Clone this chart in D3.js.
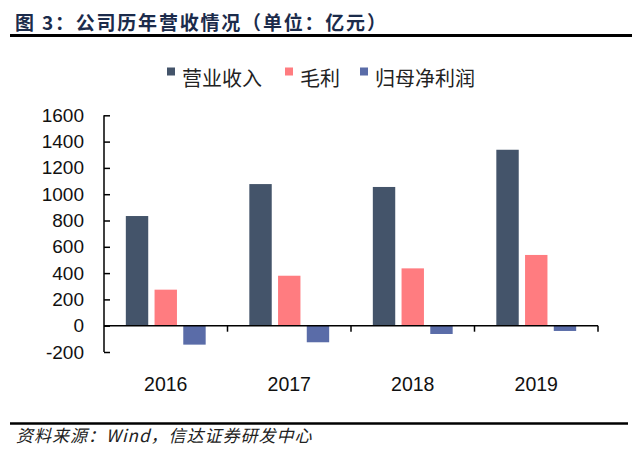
<!DOCTYPE html>
<html><head><meta charset="utf-8">
<script src="https://cdn.jsdelivr.net/npm/d3@7"></script>
<style>body{margin:0;background:#fff}svg{display:block}</style>
</head><body>
<svg id="c" width="640" height="469"></svg>
<script>
const years = ["2016","2017","2018","2019"];
const seriesNames = ["营业收入","毛利","归母净利润"];
const revenue = [834, 1077, 1055, 1338];
const grossProfit = [274, 380, 436, 538];
const netProfit = [-144, -126, -63, -40];
const yTicks = [-200,0,200,400,600,800,1000,1200,1400,1600];
const colors = ["#44546A","#FF7C80","#5A6CA8"];
const series = [revenue, grossProfit, netProfit];

const svg = d3.select("#c");
const x = d3.scaleBand().domain(years).range([104,598]).paddingInner(0).paddingOuter(0);
const xs = d3.scaleBand().domain(seriesNames).range([0,x.bandwidth()]).paddingInner(0.22).paddingOuter(0.76);
const y = d3.scaleLinear().domain([-200,1600]).range([352,115.3]);

// title
svg.append("text").attr("x",15).attr("y",30).attr("font-family","'Noto Sans CJK SC'")
  .attr("font-weight","bold").attr("font-size",19).attr("fill","#1B2B4B")
  .attr("letter-spacing",1.8)
  .text("图 3：公司历年营收情况（单位：亿元）");
svg.append("line").attr("x1",10).attr("x2",632).attr("y1",35.5).attr("y2",35.5)
  .attr("stroke","#000").attr("stroke-width",3);

// legend
const legX = [167, 285, 360];
seriesNames.forEach((n,i)=>{
  svg.append("rect").attr("x",legX[i]).attr("y",67.5).attr("width",8).attr("height",8).attr("fill",colors[i]);
  svg.append("text").attr("x",legX[i]+15).attr("y",85.5).attr("font-family","'Noto Sans CJK SC'")
    .attr("font-size",20).attr("fill","#222").text(n);
});

// bars
years.forEach((yr,i)=>{
  series.forEach((s,j)=>{
    const v = s[i];
    svg.append("rect").attr("x",x(yr)+xs(seriesNames[j])).attr("width",xs.bandwidth())
      .attr("y",y(Math.max(0,v))).attr("height",Math.abs(y(v)-y(0))).attr("fill",colors[j]);
  });
});

// y axis
const yAxis = d3.axisLeft(y).tickValues(yTicks).tickSize(-6).tickPadding(20).tickFormat(d=>String(d));
const gy = svg.append("g").attr("transform","translate(104,0)").call(yAxis);
gy.select(".domain").attr("stroke","#000").attr("stroke-width",1.5).attr("d","M0,"+y(1600)+"V"+y(-200));
gy.selectAll(".tick line").attr("stroke","#000").attr("stroke-width",1.5);
gy.selectAll(".tick text").attr("font-family","'Liberation Sans',Arial").attr("font-size",19).attr("fill","#111");

// zero line / x axis
const xAxis = d3.axisBottom(x).tickSize(0).tickFormat(()=> "");
const gx = svg.append("g").attr("transform","translate(0,"+y(0)+")").call(xAxis);
gx.select(".domain").attr("stroke","#000").attr("stroke-width",1.5).attr("d","M104,0H598");
const tickPos = years.slice(1).map(d=>x(d)).concat([x.range()[1]]);
gx.selectAll(".sep").data(tickPos).enter().append("line").attr("class","sep")
  .attr("x1",d=>d).attr("x2",d=>d).attr("y1",0).attr("y2",6).attr("stroke","#000").attr("stroke-width",1.5);

// year labels
svg.selectAll(".yr").data(years).enter().append("text").attr("class","yr")
  .attr("x",d=>x(d)+x.bandwidth()/2).attr("y",391).attr("text-anchor","middle")
  .attr("font-family","'Liberation Sans',Arial").attr("font-size",19.5).attr("fill","#111").text(d=>d);

// footer
svg.append("line").attr("x1",10).attr("x2",628).attr("y1",423.5).attr("y2",423.5)
  .attr("stroke","#000").attr("stroke-width",2.5);
svg.append("text").attr("x",16).attr("y",442).attr("font-family","'Noto Sans CJK SC'")
  .attr("font-style","italic").attr("font-size",17).attr("fill","#222")
  .attr("letter-spacing",1)
  .text("资料来源：Wind，信达证券研发中心");
</script>
</body></html>
